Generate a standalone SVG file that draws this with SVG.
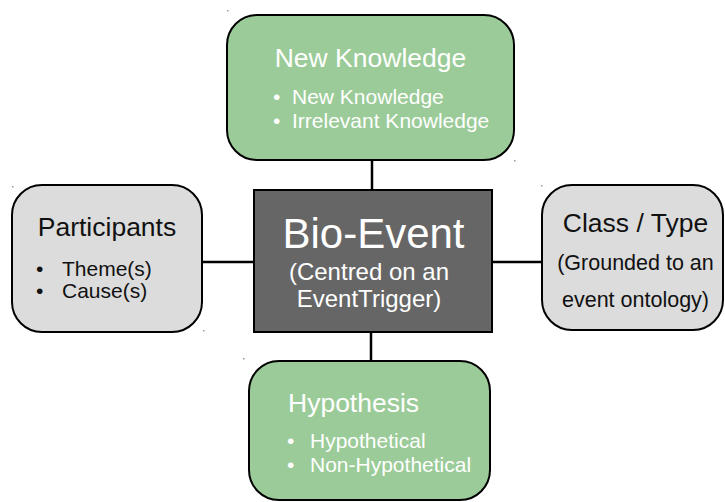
<svg xmlns="http://www.w3.org/2000/svg" width="725" height="502" viewBox="0 0 725 502">
  <style>
    .box { stroke: #000; stroke-width: 2; }
    .green { fill: #9bcb98; }
    .grey { fill: #dcdcdc; }
    .dark { fill: #666666; }
    .link { stroke: #000; stroke-width: 2.5; fill: none; }
    text { font-family: "Liberation Sans", Arial, sans-serif; }
    .title { font-size: 26.5px; }
    .item { font-size: 21px; }
    .light { fill: #ffffff; }
    .ink { fill: #111111; }
    .speck { fill: #999999; }
  </style>

  <!-- connectors between the central event and its four facets -->
  <g id="connectors">
    <line class="link" x1="372" y1="160" x2="372" y2="190"/>
    <line class="link" x1="371" y1="332" x2="371" y2="361"/>
    <line class="link" x1="202" y1="262" x2="254" y2="262"/>
    <line class="link" x1="492" y1="262" x2="542" y2="262"/>
  </g>

  <g id="new-knowledge">
    <rect class="box green" x="227" y="15" width="287" height="145" rx="30" ry="30"/>
    <text class="title light" x="370.5" y="67" text-anchor="middle">New Knowledge</text>
    <text class="item light" x="273" y="104">•</text>
    <text class="item light" x="292" y="104">New Knowledge</text>
    <text class="item light" x="273" y="128">•</text>
    <text class="item light" x="292" y="128">Irrelevant Knowledge</text>
  </g>

  <g id="participants">
    <rect class="box grey" x="12" y="185" width="190" height="147" rx="30" ry="30"/>
    <text class="title ink" x="107" y="236" text-anchor="middle">Participants</text>
    <text class="item ink" x="36" y="276">•</text>
    <text class="item ink" x="62" y="276">Theme(s)</text>
    <text class="item ink" x="36" y="298">•</text>
    <text class="item ink" x="62" y="298">Cause(s)</text>
  </g>

  <g id="bio-event">
    <rect class="box dark" x="254" y="190" width="238" height="142"/>
    <text class="light" x="373.5" y="248" text-anchor="middle" font-size="42">Bio-Event</text>
    <text class="light" x="369" y="280" text-anchor="middle" font-size="24">(Centred on an</text>
    <text class="light" x="369" y="307" text-anchor="middle" font-size="24">EventTrigger)</text>
  </g>

  <g id="class-type">
    <rect class="box grey" x="542" y="185" width="181" height="145" rx="30" ry="30"/>
    <text class="title ink" x="635.5" y="232" text-anchor="middle">Class / Type</text>
    <text class="ink" x="635.5" y="270" text-anchor="middle" font-size="21.5">(Grounded to an</text>
    <text class="ink" x="635.5" y="307" text-anchor="middle" font-size="21.5">event ontology)</text>
  </g>

  <g id="hypothesis">
    <rect class="box green" x="249" y="361" width="241" height="139" rx="30" ry="30"/>
    <text class="title light" x="288" y="412">Hypothesis</text>
    <text class="item light" x="287" y="448">•</text>
    <text class="item light" x="310" y="448">Hypothetical</text>
    <text class="item light" x="287" y="472">•</text>
    <text class="item light" x="310" y="472">Non-Hypothetical</text>
  </g>

  <!-- stray handle specks near the box corners -->
  <g id="specks">
    <rect class="speck" x="227" y="10" width="1.5" height="1.5"/>
    <rect class="speck" x="514" y="160" width="1.5" height="1.5"/>
    <rect class="speck" x="12" y="186" width="1.5" height="1.5"/>
    <rect class="speck" x="203" y="330" width="1.5" height="1.5"/>
    <rect class="speck" x="541" y="185" width="1.5" height="1.5"/>
    <rect class="speck" x="243" y="358" width="1.5" height="1.5"/>
  </g>
</svg>
